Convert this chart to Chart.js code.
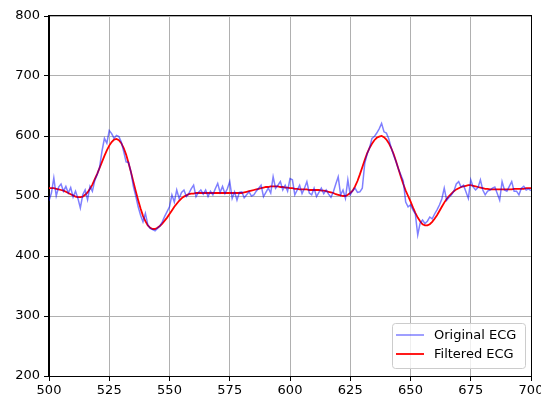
<!DOCTYPE html>
<html>
<head>
<meta charset="utf-8">
<script src="https://cdn.jsdelivr.net/npm/chart.js@4/dist/chart.umd.min.js"></script>
<style>
  body { margin: 0; background: #fff; }
  #wrap { width: 541px; height: 399px; }
</style>
</head>
<body>
<div id="wrap"><canvas id="chartEcg" width="541" height="399"></canvas></div>
<script>
// sample index 500..700
const muestras = Array.from({ length: 201 }, (_, i) => 500 + i);

const ecgOriginal = [
  492, 505, 530, 500, 515, 520, 508, 516, 505, 514,
  498, 508, 496, 480, 502, 510, 494, 516, 508, 526,
  536, 548, 575, 596, 588, 609, 604, 596, 601, 599,
  590, 574, 557, 556, 540, 516, 500, 482, 468, 457,
  471, 452, 446, 444, 442, 446, 450, 457, 466, 474,
  482, 502, 490, 510, 496, 506, 510, 499, 504, 512,
  518, 499, 506, 510, 503, 510, 499, 508, 502, 512,
  521, 506, 516, 504, 512, 524, 496, 507, 493, 506,
  507, 497, 502, 507, 500, 502, 508, 513, 518, 499,
  506, 513, 505, 532, 513, 518, 524, 510, 518, 508,
  529, 527, 502, 510, 518, 504, 513, 524, 505, 502,
  513, 499, 506, 513, 504, 510, 503, 498, 507, 520,
  532, 502, 510, 496, 527, 502, 509, 513, 506, 507,
  513, 554, 570, 580, 596, 599, 605, 612, 621, 607,
  605, 595, 580, 568, 557, 545, 535, 525, 490, 482,
  485, 477, 470, 435, 455, 460, 454, 458, 465, 462,
  470, 477, 485, 495, 513, 493, 498, 502, 508, 520,
  524, 515, 518, 507, 496, 527, 515, 510, 514, 527,
  510, 502, 508, 510, 513, 515, 504, 493, 524, 510,
  508, 516, 524, 508, 508, 502, 513, 516, 510, 512,
  509
];

const ecgFiltrado = [
  513, 513, 513, 512, 511, 510, 509, 507, 505, 503,
  501, 499, 498, 498, 499, 502, 506, 512, 519, 528,
  537, 547, 557, 567, 576, 584, 590, 594, 595, 593,
  588, 580, 569, 555, 540, 524, 508, 493, 479, 467,
  458, 451, 447, 445, 445, 447, 450, 454, 459, 464,
  470, 476, 482, 487, 492, 496, 499, 501, 503, 504,
  504, 505, 505, 505, 505, 505, 505, 505, 505, 505,
  505, 505, 505, 505, 505, 505, 505, 505, 505, 505,
  505, 506, 507, 508, 509, 510, 511, 512, 513, 514,
  515, 515, 516, 516, 516, 516, 515, 515, 514, 514,
  513, 513, 512, 512, 511, 511, 511, 511, 510, 510,
  510, 510, 510, 509, 509, 508, 507, 506, 505, 503,
  502, 501, 500, 500, 502, 505, 509, 516, 525, 536,
  548, 560, 571, 580, 587, 593, 597, 599, 600, 598,
  594, 588, 580, 570, 558, 545, 532, 520, 509, 500,
  491, 481, 472, 464, 458, 453, 451, 451, 453, 457,
  462, 468, 475, 482, 489, 495, 500, 504, 508, 511,
  513, 515, 516, 517, 518, 518, 517, 516, 515, 514,
  513, 512, 512, 511, 511, 511, 511, 511, 511, 511,
  511, 511, 511, 512, 512, 512, 512, 512, 513, 513,
  513
];

const ticksX = [500, 525, 550, 575, 600, 625, 650, 675, 700];
const ticksY = [200, 300, 400, 500, 600, 700, 800];

const fuente = { family: "DejaVu Sans", size: 13 };

// marco y leyenda al estilo matplotlib
const marcoYLeyenda = {
  id: "marcoYLeyenda",
  afterDatasetsDraw(chart) {
    const { ctx, chartArea: a } = chart;
    ctx.save();
    ctx.strokeStyle = "#000";
    ctx.lineWidth = 1;
    ctx.strokeRect(Math.round(a.left) - 0.5, Math.round(a.top) - 0.5,
      Math.round(a.right - a.left) + 1, Math.round(a.bottom - a.top) + 1);
    ctx.restore();
  },
  afterDraw(chart) {
    const { ctx } = chart;
    const x = 392, y = 323.5, w = 133, h = 45;
    ctx.save();
    ctx.beginPath();
    ctx.roundRect(x + 0.5, y, w, h, 3);
    ctx.fillStyle = "rgba(255,255,255,0.8)";
    ctx.fill();
    ctx.strokeStyle = "#cccccc";
    ctx.lineWidth = 1;
    ctx.stroke();

    chart.data.datasets.forEach((ds, i) => {
      const ly = 335 + i * 19;
      ctx.beginPath();
      ctx.moveTo(396, ly);
      ctx.lineTo(424, ly);
      ctx.strokeStyle = ds.borderColor;
      ctx.lineWidth = ds.borderWidth;
      ctx.stroke();
      ctx.fillStyle = "#000";
      ctx.font = "13px 'DejaVu Sans'";
      ctx.textBaseline = "middle";
      ctx.fillText(ds.label, 434, ly + 0.5);
    });
    ctx.restore();
  }
};

document.addEventListener("DOMContentLoaded", () => {
  const ctx = document.getElementById("chartEcg");

  new Chart(ctx, {
    type: "line",
    data: {
      datasets: [
        {
          label: "Original ECG",
          data: muestras.map((m, i) => ({ x: m, y: ecgOriginal[i] })),
          borderColor: "rgba(0,0,255,0.5)",
          borderWidth: 1.5,
          pointRadius: 0,
          tension: 0,
          fill: false
        },
        {
          label: "Filtered ECG",
          data: muestras.map((m, i) => ({ x: m, y: ecgFiltrado[i] })),
          borderColor: "#ff0000",
          borderWidth: 1.8,
          pointRadius: 0,
          tension: 0,
          fill: false
        }
      ]
    },
    options: {
      responsive: false,
      animation: false,
      events: [],
      layout: { padding: { top: 16, right: 10, left: 0, bottom: 0 } },
      plugins: { legend: { display: false }, tooltip: { enabled: false } },
      scales: {
        x: {
          type: "linear",
          min: 500,
          max: 700,
          afterBuildTicks: (s) => { s.ticks = ticksX.map(v => ({ value: v })); },
          afterFit: (s) => { s.height = 23; s.paddingLeft = 0; s.paddingRight = 0; },
          grid: { color: "#b0b0b0", lineWidth: 1, tickLength: 5, tickColor: "#000" },
          border: { color: "#000" },
          ticks: { color: "#000", font: fuente, padding: 2, maxRotation: 0, autoSkip: false }
        },
        y: {
          min: 200,
          max: 800,
          afterBuildTicks: (s) => { s.ticks = ticksY.map(v => ({ value: v })); },
          afterFit: (s) => { s.width = 49; s.paddingTop = 0; s.paddingBottom = 0; },
          grid: { color: "#b0b0b0", lineWidth: 1, tickLength: 5, tickColor: "#000" },
          border: { color: "#000" },
          ticks: { color: "#000", font: fuente, padding: 4, autoSkip: false }
        }
      }
    },
    plugins: [marcoYLeyenda]
  });
});
</script>
</body>
</html>
